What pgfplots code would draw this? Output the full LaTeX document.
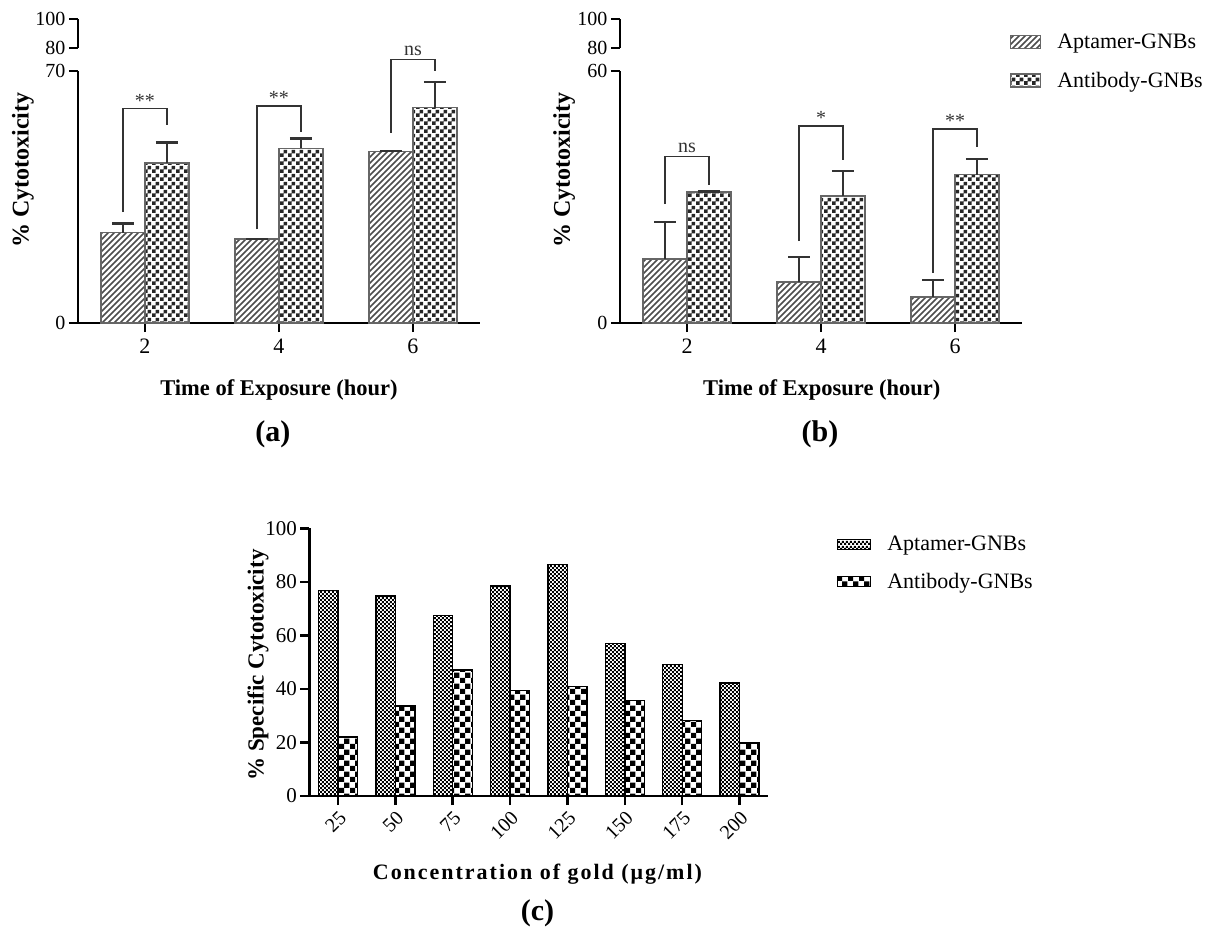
\documentclass[border=0pt]{standalone}
\usepackage{fontspec}
\setmainfont{Liberation Serif}
\newfontfamily\spacedfont[LetterSpace=9]{Liberation Serif}
\usepackage{pgfplots}
\pgfplotsset{compat=1.18}
\usepackage{pgfplotstable}
\usetikzlibrary{patterns}

\newcommand\fs[1]{\fontsize{#1bp}{#1bp}\selectfont}

% patterns
\pgfdeclarepatternformonly{chkA}{\pgfqpoint{0bp}{0bp}}{\pgfqpoint{8bp}{8bp}}{\pgfqpoint{8bp}{8bp}}{%
  \pgfpathrectangle{\pgfqpoint{0bp}{0bp}}{\pgfqpoint{4.05bp}{4.05bp}}%
  \pgfpathrectangle{\pgfqpoint{4bp}{4bp}}{\pgfqpoint{4.05bp}{4.05bp}}%
  \pgfusepath{fill}}
\pgfdeclarepatternformonly{chkfine}{\pgfqpoint{0bp}{0bp}}{\pgfqpoint{4.4bp}{4.4bp}}{\pgfqpoint{4.4bp}{4.4bp}}{%
  \pgfpathrectangle{\pgfqpoint{0bp}{0bp}}{\pgfqpoint{2.25bp}{2.25bp}}%
  \pgfpathrectangle{\pgfqpoint{2.2bp}{2.2bp}}{\pgfqpoint{2.25bp}{2.25bp}}%
  \pgfusepath{fill}}
\pgfdeclarepatternformonly{chkbig}{\pgfqpoint{0bp}{0bp}}{\pgfqpoint{10.6bp}{10.6bp}}{\pgfqpoint{10.6bp}{10.6bp}}{%
  \pgfpathrectangle{\pgfqpoint{0bp}{0bp}}{\pgfqpoint{5.35bp}{5.35bp}}%
  \pgfpathrectangle{\pgfqpoint{5.3bp}{5.3bp}}{\pgfqpoint{5.35bp}{5.35bp}}%
  \pgfusepath{fill}}
\pgfdeclarepatternformonly{diagA}{\pgfqpoint{-1bp}{-1bp}}{\pgfqpoint{7bp}{7bp}}{\pgfqpoint{6bp}{6bp}}{%
  \pgfsetlinewidth{1.7bp}%
  \pgfpathmoveto{\pgfqpoint{0bp}{0bp}}\pgfpathlineto{\pgfqpoint{6.1bp}{6.1bp}}%
  \pgfusepath{stroke}}

% data: x = group, xs = bar centre, y = mean, e = error (upper)
\pgfplotstableread{
x xs y e
2 1.672 25.1 2.5
4 3.672 23.4 0
6 5.672 47.6 0.2
}\aApt
\pgfplotstableread{
x xs y e
2 2.328 44.4 5.7
4 4.328 48.5 2.8
6 6.328 59.8 7.1
}\aAnt
\pgfplotstableread{
x xs y e
2 1.672 15.2 8.9
4 3.672 9.8 5.9
6 5.672 6.2 4.0
}\bApt
\pgfplotstableread{
x xs y e
2 2.328 31.2 0.1
4 4.328 30.2 6.0
6 6.328 35.3 3.7
}\bAnt
\pgfplotstableread{
x y
1 76.7
2 74.7
3 67.4
4 78.5
5 86.6
6 56.9
7 49.1
8 42.2
}\cApt
\pgfplotstableread{
x y
1 22.0
2 33.6
3 47.1
4 39.4
5 40.8
6 35.6
7 28.1
8 19.8
}\cAnt

\pgfplotsset{
  panel/.style={
    scale only axis,
    axis x line=bottom, axis y line=left,
    axis line style={line width=2.5bp, -},
    tick align=outside,
    major tick length=9bp,
    tick style={line width=2.5bp, black},
    clip=false,
    tick label style={font=\fs{20}},
    /pgf/number format/assume math mode=true,
    ymin=0,
  },
  stub/.style={
    scale only axis,
    axis y line=left, axis x line=none,
    axis line style={line width=2.5bp, -},
    tick align=outside,
    major tick length=9bp,
    tick style={line width=2.5bp, black},
    tick label style={font=\fs{20}},
    /pgf/number format/assume math mode=true,
    width=10bp, height=29bp, xmin=0, xmax=1, ymin=80, ymax=100,
    ytick={80,100},
  },
  aptA/.style={draw=black!60, line width=1.5bp, pattern=diagA, pattern color=black!70,
    legend image code/.code={\draw[draw=black!60, line width=1.2bp, pattern=diagA, pattern color=black!70] (0bp,-6.5bp) rectangle (30bp,6.5bp);}},
  antA/.style={draw=black!60, line width=1.5bp, pattern=chkA, pattern color=black!85,
    legend image code/.code={\draw[draw=black!60, line width=1.2bp, pattern=chkA, pattern color=black!85] (0bp,-6.5bp) rectangle (30bp,6.5bp);}},
  aptC/.style={draw=black, line width=1.3bp, pattern=chkfine, pattern color=black,
    legend image code/.code={\draw[draw=black, line width=1bp, pattern=chkfine, pattern color=black] (0bp,-5bp) rectangle (33bp,5bp);}},
  antC/.style={draw=black, line width=1.3bp, pattern=chkbig, pattern color=black,
    legend image code/.code={\draw[draw=black, line width=1bp, pattern=chkbig, pattern color=black] (0bp,-5bp) rectangle (33bp,5bp);}},
  errplot/.style={sharp plot, draw=none, mark=none, forget plot, /pgfplots/bar shift=0pt,
    error bars/.cd, y dir=plus, y explicit, error mark=-,
    error bar style={line width=2.5bp, draw=black!80, solid},
    error mark options={rotate=90, line width=2.5bp, draw=black!80, mark size=11bp, solid}},
}

\begin{document}
\begin{tikzpicture}
\useasboundingbox (0bp,0bp) rectangle (1214bp,-941bp);

% ---------------- panel (a) ----------------
\begin{axis}[panel, at={(78bp,-323bp)}, anchor=south west,
  width=402bp, height=252bp, xmin=1, xmax=7, ymax=70,
  xtick={2,4,6}, xticklabels={2,4,6}, ytick={0,70}, yticklabels={0,70},
  xticklabel style={font=\fs{22}, anchor=north, yshift=-3bp},
  ybar=0pt, bar width=44bp,
  xlabel={Time of Exposure (hour)},
  xlabel style={font=\bfseries\fs{22.5}, at={(axis description cs:0.5,-0.266)}, anchor=center},
  ylabel={\% Cytotoxicity},
  ylabel style={font=\bfseries\fs{24}, at={(axis description cs:-0.137,0.607)}, anchor=center},
]
\addplot[aptA] table[x=x, y=y] {\aApt};
\addplot[antA] table[x=x, y=y] {\aAnt};
\addplot[errplot] table[x=xs, y=y, y error=e] {\aApt};
\addplot[errplot] table[x=xs, y=y, y error=e] {\aAnt};
\draw[line width=1.3bp, black!80] (axis cs:1.672,30.8) -- (axis cs:1.672,59.6) -- (axis cs:2.328,59.6) -- (axis cs:2.328,55);
\draw[line width=1.3bp, black!80] (axis cs:3.672,26.0) -- (axis cs:3.672,60.3) -- (axis cs:4.328,60.3) -- (axis cs:4.328,53.1);
\draw[line width=1.3bp, black!80] (axis cs:5.672,52.9) -- (axis cs:5.672,73.2) -- (axis cs:6.328,73.2) -- (axis cs:6.328,70);
\node[font=\fs{20}, anchor=base, inner sep=0pt, black!80] at (axis cs:2,59.9) {**};
\node[font=\fs{20}, anchor=base, inner sep=0pt, black!80] at (axis cs:4,60.6) {**};
\node[font=\fs{20}, anchor=base, inner sep=0pt, black!80, yshift=4bp] at (axis cs:6,73.2) {ns};
\node[font=\bfseries\fs{30}] at (axis description cs:0.485,-0.44) {(a)};
\end{axis}
\begin{axis}[stub, at={(78bp,-48bp)}, anchor=south west, yticklabels={80,100}]
\end{axis}

% ---------------- panel (b) ----------------
\begin{axis}[panel, at={(620bp,-323bp)}, anchor=south west,
  width=402bp, height=252bp, xmin=1, xmax=7, ymax=60,
  xtick={2,4,6}, xticklabels={2,4,6}, ytick={0,60}, yticklabels={0,60},
  xticklabel style={font=\fs{22}, anchor=north, yshift=-3bp},
  ybar=0pt, bar width=44bp,
  xlabel={Time of Exposure (hour)},
  xlabel style={font=\bfseries\fs{22.5}, at={(axis description cs:0.502,-0.266)}, anchor=center},
  ylabel={\% Cytotoxicity},
  ylabel style={font=\bfseries\fs{24}, at={(axis description cs:-0.139,0.607)}, anchor=center},
  legend style={at={(0.970,1.155)}, anchor=north west, draw=none, fill=none,
    font=\fs{22}, row sep=18bp, inner sep=0pt, nodes={inner sep=2bp}, column sep=14bp},
  legend cell align=left,
]
\addplot[aptA] table[x=x, y=y] {\bApt};
\addlegendentry{Aptamer-GNBs}
\addplot[antA] table[x=x, y=y] {\bAnt};
\addlegendentry{Antibody-GNBs}
\addplot[errplot] table[x=xs, y=y, y error=e] {\bApt};
\addplot[errplot] table[x=xs, y=y, y error=e] {\bAnt};
\draw[line width=1.3bp, black!80] (axis cs:1.672,28.3) -- (axis cs:1.672,39.7) -- (axis cs:2.328,39.7) -- (axis cs:2.328,32.8);
\draw[line width=1.3bp, black!80] (axis cs:3.672,19.5) -- (axis cs:3.672,46.9) -- (axis cs:4.328,46.9) -- (axis cs:4.328,38.9);
\draw[line width=1.3bp, black!80] (axis cs:5.672,12.0) -- (axis cs:5.672,46.2) -- (axis cs:6.328,46.2) -- (axis cs:6.328,42.0);
\node[font=\fs{20}, anchor=base, inner sep=0pt, black!80, yshift=4bp] at (axis cs:2,39.7) {ns};
\node[font=\fs{20}, anchor=base, inner sep=0pt, black!80] at (axis cs:4,47.2) {*};
\node[font=\fs{20}, anchor=base, inner sep=0pt, black!80] at (axis cs:6,46.5) {**};
\node[font=\bfseries\fs{30}] at (axis description cs:0.4975,-0.44) {(b)};
\end{axis}
\begin{axis}[stub, at={(620bp,-48bp)}, anchor=south west, yticklabels={80,100}]
\end{axis}

% ---------------- panel (c) ----------------
\begin{axis}[panel, at={(309.3bp,-796bp)}, anchor=south west,
  width=459bp, height=267.7bp, xmin=0.5, xmax=8.5, ymax=100,
  xtick={1,...,8}, xticklabels={25,50,75,100,125,150,175,200},
  ytick={0,20,...,100}, yticklabels={0,20,40,60,80,100},
  tick label style={font=\fs{21}},
  xticklabel style={rotate=45, anchor=north east, font=\fs{20}},
  ybar=0pt, bar width=19.5bp,
  xlabel={\spacedfont\bfseries Concentration of gold (μg/ml)},
  xlabel style={font=\fs{22}, at={(axis description cs:0.497,-0.291)}, anchor=center},
  ylabel={\% Specific Cytotoxicity},
  ylabel style={font=\bfseries\fs{23}, at={(axis description cs:-0.112,0.489)}, anchor=center},
  legend style={at={(1.150,0.979)}, anchor=north west, draw=none, fill=none,
    font=\fs{22}, row sep=17bp, inner sep=0pt, nodes={inner sep=2bp}, column sep=14bp},
  legend cell align=left,
]
\addplot[aptC] table[x=x, y=y] {\cApt};
\addlegendentry{Aptamer-GNBs}
\addplot[antC] table[x=x, y=y] {\cAnt};
\addlegendentry{Antibody-GNBs}
\node[font=\bfseries\fs{30}] at (axis description cs:0.497,-0.437) {(c)};
\end{axis}
\end{tikzpicture}
\end{document}
